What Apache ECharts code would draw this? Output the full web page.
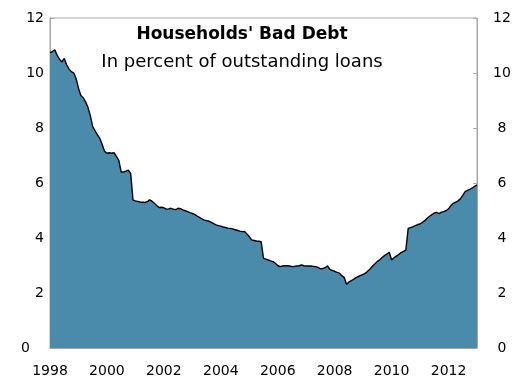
<!DOCTYPE html>
<html>
<head>
<meta charset="utf-8">
<script src="https://cdn.jsdelivr.net/npm/echarts@6/dist/echarts.min.js"></script>
<style>html,body{margin:0;padding:0;background:#fff;}#c{width:516px;height:381px;}</style>
</head>
<body>
<div id="c"></div>
<script>
// Monthly data, Jan 1998 .. Jan 2013
const startYear = 1998;
const badDebt = [
  10.74,10.78,10.84,10.65,10.5,10.4,10.53,10.3,10.15,10.05,10.0,9.8,
  9.45,9.18,9.1,8.95,8.75,8.45,8.05,7.9,7.75,7.62,7.4,7.15,
  7.08,7.1,7.08,7.1,6.97,6.82,6.4,6.4,6.43,6.47,6.35,5.38,
  5.35,5.33,5.31,5.3,5.29,5.32,5.39,5.34,5.26,5.18,5.11,5.12,
  5.1,5.05,5.06,5.08,5.05,5.03,5.08,5.07,5.02,4.99,4.96,4.92,
  4.89,4.86,4.8,4.75,4.7,4.65,4.63,4.61,4.57,4.52,4.48,4.45,
  4.43,4.4,4.38,4.36,4.35,4.33,4.3,4.28,4.25,4.23,4.24,4.15,
  4.05,3.93,3.91,3.89,3.88,3.87,3.26,3.23,3.2,3.17,3.14,3.08,
  3.0,2.96,2.98,2.99,2.99,2.98,2.96,2.97,2.98,2.99,3.02,2.99,
  2.98,2.98,2.98,2.97,2.96,2.93,2.88,2.89,2.92,2.99,2.86,2.82,
  2.79,2.75,2.72,2.63,2.57,2.32,2.4,2.45,2.5,2.56,2.6,2.64,
  2.68,2.72,2.8,2.88,2.98,3.06,3.15,3.21,3.29,3.36,3.42,3.48,
  3.2,3.28,3.34,3.4,3.47,3.51,3.56,4.35,4.38,4.41,4.45,4.49,
  4.51,4.57,4.63,4.72,4.79,4.85,4.91,4.93,4.89,4.94,4.96,5.0,
  5.06,5.18,5.26,5.3,5.35,5.43,5.55,5.69,5.73,5.77,5.82,5.88,
  5.93
];
const titleText = "Households' Bad Debt";
const subtitleText = "In percent of outstanding loans";
const xMin = 1998, xMax = 2013, xStep = 2;
const yMin = 0, yMax = 12, yStep = 2;

const seriesData = badDebt.map((v, i) => [startYear + i / 12, v]);

const chart = echarts.init(document.getElementById('c'), null, {renderer: 'canvas'});
const FONT = "'DejaVu Sans', Verdana, sans-serif";
const axisGray = '#A6A6A6';
const yAxisCommon = {
  type: 'value', min: yMin, max: yMax, interval: yStep,
  splitLine: {show: false},
  axisLine: {show: true, lineStyle: {color: axisGray, width: 1}},
  axisTick: {show: true, inside: true, length: 4, lineStyle: {color: axisGray}}
};
chart.setOption({
  animation: false,
  backgroundColor: '#fff',
  grid: {left: 50, right: 39, top: 18, bottom: 33, show: true, borderColor: axisGray, borderWidth: 1, backgroundColor: 'transparent'},
  xAxis: {
    type: 'value', min: xMin, max: xMax, interval: xStep,
    splitLine: {show: false},
    axisLine: {show: true, lineStyle: {color: axisGray, width: 1}},
    axisTick: {show: true, inside: true, length: 5, lineStyle: {color: axisGray}},
    axisLabel: {
      color: '#000', fontFamily: FONT, fontSize: 14, margin: 16, showMaxLabel: false,
      formatter: v => (Math.abs(v - Math.round(v)) < 1e-6 && Math.round(v) % 2 === 0) ? String(Math.round(v)) : ''
    }
  },
  yAxis: [
    Object.assign({}, yAxisCommon, {
      position: 'left',
      axisLabel: {color: '#000', fontFamily: FONT, fontSize: 14, margin: 6,
        formatter: v => v === 0 ? '{z|0}' : String(v),
        rich: {z: {fontFamily: FONT, fontSize: 14, color: '#000', padding: [0, 14, 0, 0]}}}
    }),
    Object.assign({}, yAxisCommon, {
      position: 'right',
      axisLabel: {color: '#000', fontFamily: FONT, fontSize: 14, margin: 25, align: 'center'}
    })
  ],
  graphic: [
    {type: 'text', x: 242, y: 35, style: {text: titleText, fill: '#000', font: "bold 17px 'DejaVu Sans'", align: 'center', verticalAlign: 'middle'}},
    {type: 'text', x: 242, y: 62, style: {text: subtitleText, fill: '#000', font: "18px 'DejaVu Sans'", align: 'center', verticalAlign: 'middle'}}
  ],
  series: [{
    type: 'line', data: seriesData, showSymbol: false, symbol: 'none',
    lineStyle: {color: '#000', width: 1.4},
    areaStyle: {color: '#4A8BAC', opacity: 1},
    z: 1
  }]
});
</script>
</body>
</html>
